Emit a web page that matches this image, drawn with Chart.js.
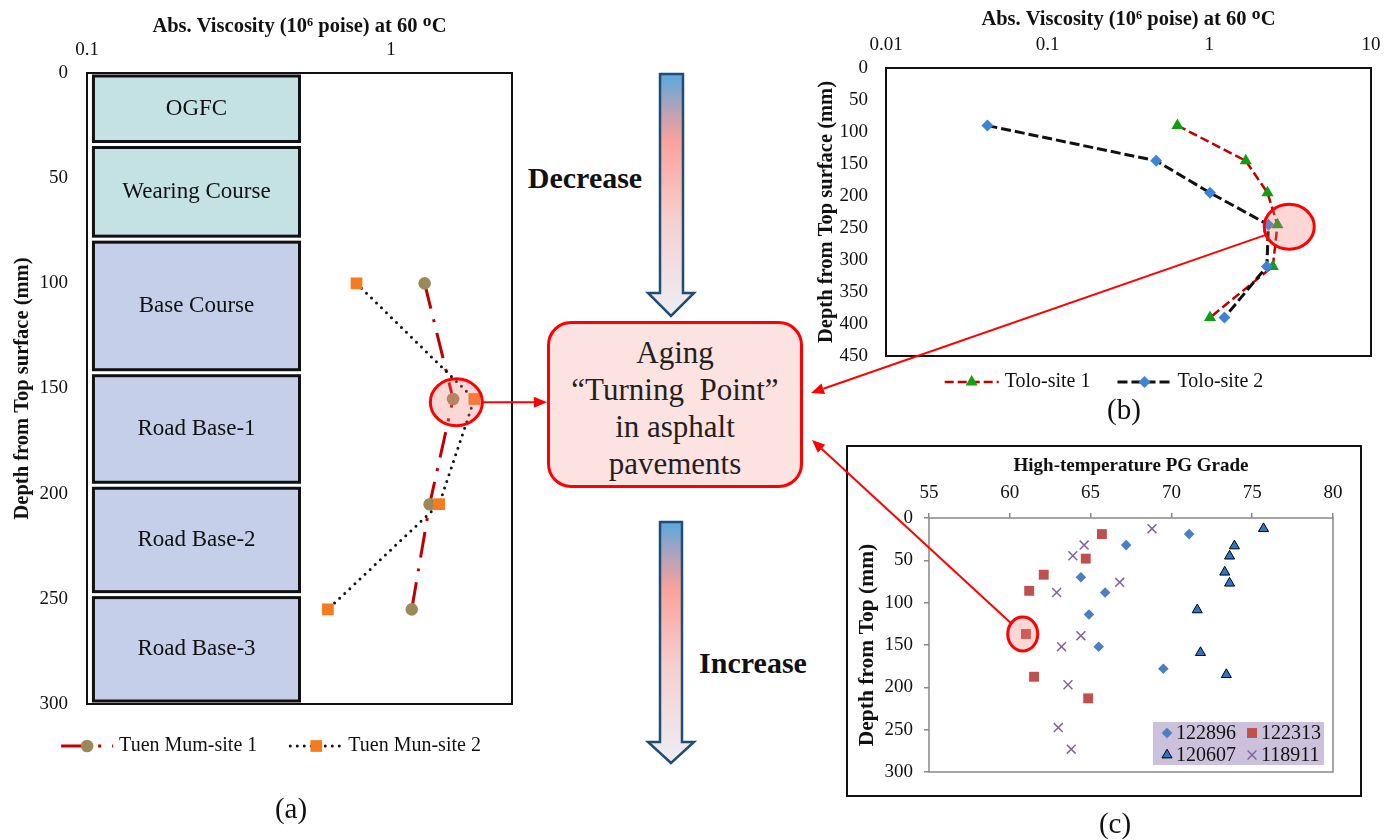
<!DOCTYPE html>
<html>
<head>
<meta charset="utf-8">
<script src="https://cdn.jsdelivr.net/npm/chart.js@4.4.1/dist/chart.umd.min.js"></script>
<style>
  html, body { margin: 0; padding: 0; background: #fff; }
  #page { position: relative; width: 1394px; height: 840px; overflow: hidden;
          font-family: 'Liberation Serif', 'Times New Roman', serif; color: #111; }
  #page canvas { position: absolute; }
  #chartA { left: 0; top: 0; }
  #chartB { left: 800px; top: 0; }
  #chartC { left: 848px; top: 446px; }
  #frameC { position: absolute; left: 846px; top: 445px; width: 516px; height: 352px;
            border: 2px solid #111; box-sizing: border-box; }
  #overlay { left: 0; top: 0; pointer-events: none; }
  .cap { position: absolute; transform: translate(-50%, -50%); font-size: 29px; white-space: nowrap; }
  .word { position: absolute; transform: translate(-50%, -50%); font-size: 30px; font-weight: bold; white-space: nowrap; }
  #turn { position: absolute; left: 547px; top: 321px; width: 256px; height: 167px; box-sizing: border-box;
          border: 3px solid #f00; border-radius: 24px; background: #fde2e2; text-align: center;
          font-size: 31px; line-height: 37px; padding-top: 10px; color: #231f20; white-space: pre; }
  #arrows { position: absolute; left: 0; top: 0; }
</style>
</head>
<body>
<div id="page">
  <svg id="arrows" width="1394" height="840">
    <defs>
      <linearGradient id="grad" x1="0" y1="0" x2="0" y2="1">
        <stop offset="0" stop-color="#58a8e0"/>
        <stop offset="0.17" stop-color="#c4a2b0"/>
        <stop offset="0.28" stop-color="#fba29b"/>
        <stop offset="0.6" stop-color="#f6cfcf"/>
        <stop offset="1" stop-color="#eeedf5"/>
      </linearGradient>
    </defs>
    <path d="M660,74 H683 V293 H694 L671,316 L648,293 H660 Z" fill="url(#grad)" stroke="#1e4d75" stroke-width="2.5"/>
    <path d="M660,522 H682 V742 H694 L671,763 L648,742 H660 Z" fill="url(#grad)" stroke="#1e4d75" stroke-width="2.5"/>
  </svg>
  <div class="word" style="left:585px; top:178px">Decrease</div>
  <div class="word" style="left:753px; top:663px">Increase</div>
  <div id="turn">Aging
“Turning  Point”
in asphalt
pavements</div>

  <div id="frameC"></div>
  <canvas id="chartA" width="540" height="780"></canvas>
  <canvas id="chartB" width="594" height="430"></canvas>
  <canvas id="chartC" width="512" height="349"></canvas>
  <canvas id="overlay" width="1394" height="840"></canvas>

  <div class="cap" style="left:291px; top:808px">(a)</div>
  <div class="cap" style="left:1124px; top:409px">(b)</div>
  <div class="cap" style="left:1115px; top:823px">(c)</div>
</div>

<script>
// (a) Tuen Mun cores: viscosity at each sampling depth
const tmDepth = [100, 155, 205, 255];
const tmSite1 = [1.29, 1.60, 1.34, 1.17];
const tmSite2 = [0.77, 1.88, 1.44, 0.62];
const viscTicksA = [0.1, 1];

// pavement layers shown beside the profile (depth in mm)
const layerNames = ['OGFC', 'Wearing Course', 'Base Course', 'Road Base-1', 'Road Base-2', 'Road Base-3'];
const layerTop = [0, 34, 79, 142.5, 196, 248];
const layerBottom = [34, 79, 142.5, 196, 248, 300];

// (b) Tolo cores
const toloDepth = [90, 145, 195, 245, 310, 390];
const toloSite1 = [0.635, 1.68, 2.29, 2.64, 2.47, 1.01];
const toloSite2 = [0.0424, 0.469, 1.01, 2.32, 2.27, 1.24];
const viscTicksB = [0.01, 0.1, 1, 10];

// (c) high temperature PG grade vs depth, four sections
const pg122896 = [71.1, 67.2, 64.4, 65.9, 64.9, 65.5, 69.5];
const dep122896 = [19, 32, 70, 88, 114, 152, 178];
const pg122313 = [65.7, 64.7, 62.1, 61.2, 61.0, 61.5, 64.85];
const dep122313 = [19, 48, 67, 86, 137, 187.5, 213];
const pg120607 = [75.7, 73.9, 73.6, 73.3, 73.6, 71.6, 71.8, 73.4];
const dep120607 = [12.6, 33, 45, 64, 77, 108.5, 159, 185];
const pg118911 = [68.8, 64.6, 63.9, 66.8, 62.9, 64.4, 63.2, 63.6, 63.0, 63.8];
const dep118911 = [12.6, 32, 44.6, 76, 88, 139, 152, 197, 247.5, 273];

// circled "turning points"
const hlA = { x: 1.64, y: 156.5, rx: 26, ry: 23.5 };
const hlB = { x: 3.12, y: 248, rx: 25, ry: 22.5 };
const hlC = { x: 60.8, y: 137, rx: 15, ry: 17 };

Chart.defaults.font.family = "'Liberation Serif', 'Times New Roman', serif";
Chart.defaults.color = '#111';

const pts = (xs, ys) => xs.map((v, i) => ({ x: v, y: ys[i] }));

function drawMarker(ctx, style, x, y, r, fill, stroke, bw) {
  ctx.save();
  ctx.beginPath();
  if (style === 'circle') {
    ctx.arc(x, y, r, 0, Math.PI * 2);
  } else if (style === 'rect') {
    const s = r * Math.SQRT1_2;
    ctx.rect(x - s, y - s, 2 * s, 2 * s);
  } else if (style === 'rectRot') {
    ctx.moveTo(x, y - r); ctx.lineTo(x + r, y); ctx.lineTo(x, y + r); ctx.lineTo(x - r, y); ctx.closePath();
  } else if (style === 'triangle') {
    for (let k = 0; k < 3; k++) {
      const a = k * 2 * Math.PI / 3;
      const px = x + Math.sin(a) * r, py = y - Math.cos(a) * r;
      k ? ctx.lineTo(px, py) : ctx.moveTo(px, py);
    }
    ctx.closePath();
  } else if (style === 'crossRot') {
    const s = r * Math.SQRT1_2;
    ctx.moveTo(x - s, y - s); ctx.lineTo(x + s, y + s);
    ctx.moveTo(x + s, y - s); ctx.lineTo(x - s, y + s);
  }
  if (style !== 'crossRot' && fill) { ctx.fillStyle = fill; ctx.fill(); }
  if (bw > 0 && stroke) { ctx.lineWidth = bw; ctx.strokeStyle = stroke; ctx.stroke(); }
  ctx.restore();
}

// box round the plot area
const framePlugin = (color, width) => ({
  id: 'frame',
  beforeDatasetsDraw(chart) {
    const { ctx, chartArea: a } = chart;
    ctx.save();
    ctx.strokeStyle = color; ctx.lineWidth = width;
    ctx.strokeRect(a.left, a.top, a.right - a.left, a.bottom - a.top);
    ctx.restore();
  }
});

// red circle round the turning point
const highlightPlugin = (h) => ({
  id: 'highlight',
  afterDatasetsDraw(chart) {
    const ctx = chart.ctx;
    const cx = chart.scales.x.getPixelForValue(h.x), cy = chart.scales.y.getPixelForValue(h.y);
    ctx.save();
    ctx.beginPath();
    ctx.ellipse(cx, cy, h.rx, h.ry, 0, 0, Math.PI * 2);
    ctx.fillStyle = 'rgba(250, 120, 120, 0.3)';
    ctx.fill();
    ctx.lineWidth = 3; ctx.strokeStyle = '#ff0000';
    ctx.stroke();
    ctx.restore();
  }
});

// excel style legend row: line + marker + label
const rowLegend = (cx, y, iconW, itemGap) => ({
  id: 'rowLegend',
  afterDraw(chart) {
    const ctx = chart.ctx;
    ctx.save();
    ctx.font = "20px 'Liberation Serif', serif";
    const items = chart.data.datasets.map(ds => ({ ds, w: iconW + 6 + ctx.measureText(ds.label).width }));
    const total = items.reduce((s, it) => s + it.w, 0) + itemGap * (items.length - 1);
    let x = cx - total / 2;
    items.forEach(({ ds, w }) => {
      ctx.save();
      ctx.strokeStyle = ds.borderColor; ctx.lineWidth = ds.borderWidth;
      ctx.setLineDash(ds.borderDash || []); ctx.lineCap = ds.borderCapStyle || 'butt';
      ctx.beginPath(); ctx.moveTo(x, y); ctx.lineTo(x + iconW, y); ctx.stroke();
      ctx.restore();
      drawMarker(ctx, ds.pointStyle, x + iconW / 2, y, ds.pointRadius, ds.pointBackgroundColor, ds.pointBorderColor, ds.pointBorderWidth);
      ctx.fillStyle = '#111'; ctx.textBaseline = 'middle'; ctx.textAlign = 'left';
      ctx.fillText(ds.label, x + iconW + 6, y);
      x += w + itemGap;
    });
    ctx.restore();
  }
});

// pavement layer column in (a)
const layerPlugin = {
  id: 'layers',
  beforeDatasetsDraw(chart) {
    const { ctx, scales: { x, y } } = chart;
    const x0 = x.getPixelForValue(0.105), x1 = x.getPixelForValue(0.5);
    ctx.save();
    layerNames.forEach((name, i) => {
      const t = y.getPixelForValue(layerTop[i]) + 3, b = y.getPixelForValue(layerBottom[i]) - 3;
      ctx.fillStyle = i < 2 ? '#c4e1e4' : '#c5cfe9';
      ctx.fillRect(x0, t, x1 - x0, b - t);
      ctx.lineWidth = 3; ctx.strokeStyle = '#111';
      ctx.strokeRect(x0, t, x1 - x0, b - t);
      ctx.fillStyle = '#111'; ctx.font = "23px 'Liberation Serif', serif";
      ctx.textAlign = 'center'; ctx.textBaseline = 'middle';
      ctx.fillText(name, (x0 + x1) / 2, (t + b) / 2);
    });
    ctx.restore();
  }
};

const axisTitle = (text, size, top) => ({
  display: true, text: text, color: '#111',
  font: { size: size, weight: 'bold' }, padding: { top: top, bottom: 0 }
});

const chartA = new Chart(document.getElementById('chartA'), {
  type: 'scatter',
  data: {
    datasets: [
      {
        label: 'Tuen Mum-site 1', data: pts(tmSite1, tmDepth), showLine: true, order: 1,
        borderColor: '#c00000', borderWidth: 3, borderDash: [26, 11, 3, 11],
        pointStyle: 'circle', pointRadius: 6.3, pointBackgroundColor: '#9b8a59', pointBorderWidth: 0
      },
      {
        label: 'Tuen Mun-site 2', data: pts(tmSite2, tmDepth), showLine: true, order: 0,
        borderColor: '#111', borderWidth: 3, borderDash: [0, 7], borderCapStyle: 'round',
        pointStyle: 'rect', pointRadius: 8.3, pointBackgroundColor: '#f47b20', pointBorderWidth: 0
      }
    ]
  },
  options: {
    responsive: false, animation: false, events: [],
    layout: { padding: { left: 0, top: 0, right: 28, bottom: 76 } },
    plugins: { legend: { display: false }, tooltip: { enabled: false } },
    scales: {
      x: {
        type: 'logarithmic', position: 'top', min: 0.1, max: 2.5,
        afterBuildTicks: s => { s.ticks = viscTicksA.map(v => ({ value: v })); },
        afterFit: s => { s.height = 73; },
        grid: { display: false, drawTicks: false }, border: { display: false },
        ticks: { font: { size: 19 }, padding: 12, autoSkip: false, maxRotation: 0, callback: v => String(v) },
        title: axisTitle('Abs. Viscosity (10⁶ poise) at 60 ᴼC', 20.5, 14)
      },
      y: {
        type: 'linear', reverse: true, min: 0, max: 300,
        afterFit: s => { s.width = 87; },
        grid: { display: false, drawTicks: false }, border: { display: false },
        ticks: { stepSize: 50, font: { size: 19 }, padding: 19 },
        title: axisTitle('Depth from Top surface (mm)', 20.5, 10)
      }
    }
  },
  plugins: [layerPlugin, framePlugin('#111', 2), highlightPlugin(hlA), rowLegend(271, 746, 52, 33)]
});

const chartB = new Chart(document.getElementById('chartB'), {
  type: 'scatter',
  data: {
    datasets: [
      {
        label: 'Tolo-site 1', data: pts(toloSite1, toloDepth), showLine: true, order: 1,
        borderColor: '#c00000', borderWidth: 2.5, borderDash: [9, 4],
        pointStyle: 'triangle', pointRadius: 7, pointBackgroundColor: '#129e12', pointBorderWidth: 0
      },
      {
        label: 'Tolo-site 2', data: pts(toloSite2, toloDepth), showLine: true, order: 0,
        borderColor: '#111', borderWidth: 3, borderDash: [10, 4],
        pointStyle: 'rectRot', pointRadius: 6, pointBackgroundColor: '#3d84d6', pointBorderWidth: 0
      }
    ]
  },
  options: {
    responsive: false, animation: false, events: [],
    layout: { padding: { left: 0, top: 0, right: 23, bottom: 74 } },
    plugins: { legend: { display: false }, tooltip: { enabled: false } },
    scales: {
      x: {
        type: 'logarithmic', position: 'top', min: 0.01, max: 10,
        afterBuildTicks: s => { s.ticks = viscTicksB.map(v => ({ value: v })); },
        afterFit: s => { s.height = 68; },
        grid: { display: false, drawTicks: false }, border: { display: false },
        ticks: { font: { size: 19 }, padding: 12, autoSkip: false, maxRotation: 0, callback: v => String(v) },
        title: axisTitle('Abs. Viscosity (10⁶ poise) at 60 ᴼC', 20.5, 7)
      },
      y: {
        type: 'linear', reverse: true, min: 0, max: 450,
        afterFit: s => { s.width = 86; },
        grid: { display: false, drawTicks: false }, border: { display: false },
        ticks: { stepSize: 50, font: { size: 19 }, padding: 18 },
        title: axisTitle('Depth from Top surface (mm)', 20.5, 14)
      }
    }
  },
  plugins: [framePlugin('#111', 2), highlightPlugin(hlB), rowLegend(304, 382, 54, 27)]
});

// boxed legend inside plot (c)
const boxLegend = {
  id: 'boxLegend',
  afterDraw(chart) {
    const { ctx, chartArea: a } = chart;
    const bx = a.right - 180, by = a.bottom - 50;
    ctx.save();
    ctx.fillStyle = '#ccc1da';
    ctx.fillRect(bx, by, 171, 43);
    ctx.font = "20px 'Liberation Serif', serif";
    ctx.textBaseline = 'middle'; ctx.textAlign = 'left';
    chart.data.datasets.forEach((ds, i) => {
      const mx = bx + 14 + (i % 2) * 85, my = by + 11 + Math.floor(i / 2) * 22;
      drawMarker(ctx, ds.pointStyle, mx, my, ds.pointRadius, ds.pointBackgroundColor, ds.pointBorderColor, ds.pointBorderWidth);
      ctx.fillStyle = '#111';
      ctx.fillText(ds.label, mx + 9, my + 1);
    });
    ctx.restore();
  }
};

const tickGrid = { display: true, drawOnChartArea: false, drawTicks: true, tickLength: 5, color: '#888', lineWidth: 1.5 };

const chartC = new Chart(document.getElementById('chartC'), {
  type: 'scatter',
  data: {
    datasets: [
      { label: '122896', data: pts(pg122896, dep122896), pointStyle: 'rectRot', pointRadius: 5.3,
        pointBackgroundColor: '#4a7fc1', pointBorderWidth: 0 },
      { label: '122313', data: pts(pg122313, dep122313), pointStyle: 'rect', pointRadius: 7,
        pointBackgroundColor: '#c0504d', pointBorderWidth: 0 },
      { label: '120607', data: pts(pg120607, dep120607), pointStyle: 'triangle', pointRadius: 5.8,
        pointBackgroundColor: '#2a78c8', pointBorderColor: '#000', pointBorderWidth: 1 },
      { label: '118911', data: pts(pg118911, dep118911), pointStyle: 'crossRot', pointRadius: 6.3,
        pointBackgroundColor: '#8064a2', pointBorderColor: '#8064a2', pointBorderWidth: 1.5 }
    ]
  },
  options: {
    responsive: false, animation: false, events: [],
    layout: { padding: { left: 0, top: 0, right: 27, bottom: 23 } },
    plugins: { legend: { display: false }, tooltip: { enabled: false } },
    scales: {
      x: {
        type: 'linear', position: 'top', min: 55, max: 80,
        afterFit: s => { s.height = 72; },
        grid: tickGrid, border: { display: false },
        ticks: { stepSize: 5, font: { size: 19 }, padding: 9, maxRotation: 0 },
        title: axisTitle('High-temperature PG Grade', 19, 9)
      },
      y: {
        type: 'linear', reverse: true, min: 0, max: 300,
        afterFit: s => { s.width = 81; },
        grid: tickGrid, border: { display: false },
        ticks: { stepSize: 50, font: { size: 19 }, padding: 11 },
        title: axisTitle('Depth from Top (mm)', 21.5, 7)
      }
    }
  },
  plugins: [framePlugin('#888', 1.5), highlightPlugin(hlC), boxLegend]
});

// red connectors from each circled point to the "turning point" box
(function drawConnectors() {
  const ov = document.getElementById('overlay');
  const ctx = ov.getContext('2d');
  const box = document.getElementById('turn');
  const bl = box.offsetLeft, br = box.offsetLeft + box.offsetWidth, bt = box.offsetTop;

  function centre(chart, h) {
    const c = chart.canvas;
    return { x: c.offsetLeft + chart.scales.x.getPixelForValue(h.x), y: c.offsetTop + chart.scales.y.getPixelForValue(h.y) };
  }
  function edge(c, h, tx, ty) {
    const dx = tx - c.x, dy = ty - c.y, len = Math.hypot(dx, dy);
    const ux = dx / len, uy = dy / len;
    const t = 1 / Math.sqrt((ux * ux) / (h.rx * h.rx) + (uy * uy) / (h.ry * h.ry));
    return { x: c.x + ux * t, y: c.y + uy * t };
  }
  function arrow(sx, sy, ex, ey) {
    const ang = Math.atan2(ey - sy, ex - sx), L = 13, W = 5.5;
    const bx = ex - Math.cos(ang) * L, by = ey - Math.sin(ang) * L;
    ctx.strokeStyle = '#ff0000'; ctx.fillStyle = '#ff0000'; ctx.lineWidth = 2;
    ctx.beginPath(); ctx.moveTo(sx, sy); ctx.lineTo(bx, by); ctx.stroke();
    ctx.beginPath();
    ctx.moveTo(ex, ey);
    ctx.lineTo(bx + Math.sin(ang) * W, by - Math.cos(ang) * W);
    ctx.lineTo(bx - Math.sin(ang) * W, by + Math.cos(ang) * W);
    ctx.closePath(); ctx.fill();
  }

  const ca = centre(chartA, hlA);
  arrow(ca.x + hlA.rx, ca.y, bl, ca.y);

  const cb = centre(chartB, hlB), tb = { x: br + 8, y: bt + 72 };
  const sb = edge(cb, hlB, tb.x, tb.y);
  arrow(sb.x, sb.y, tb.x, tb.y);

  const cc = centre(chartC, hlC), tc = { x: br + 9, y: bt + 119 };
  const sc = edge(cc, hlC, tc.x, tc.y);
  arrow(sc.x, sc.y, tc.x, tc.y);
})();
</script>
</body>
</html>
